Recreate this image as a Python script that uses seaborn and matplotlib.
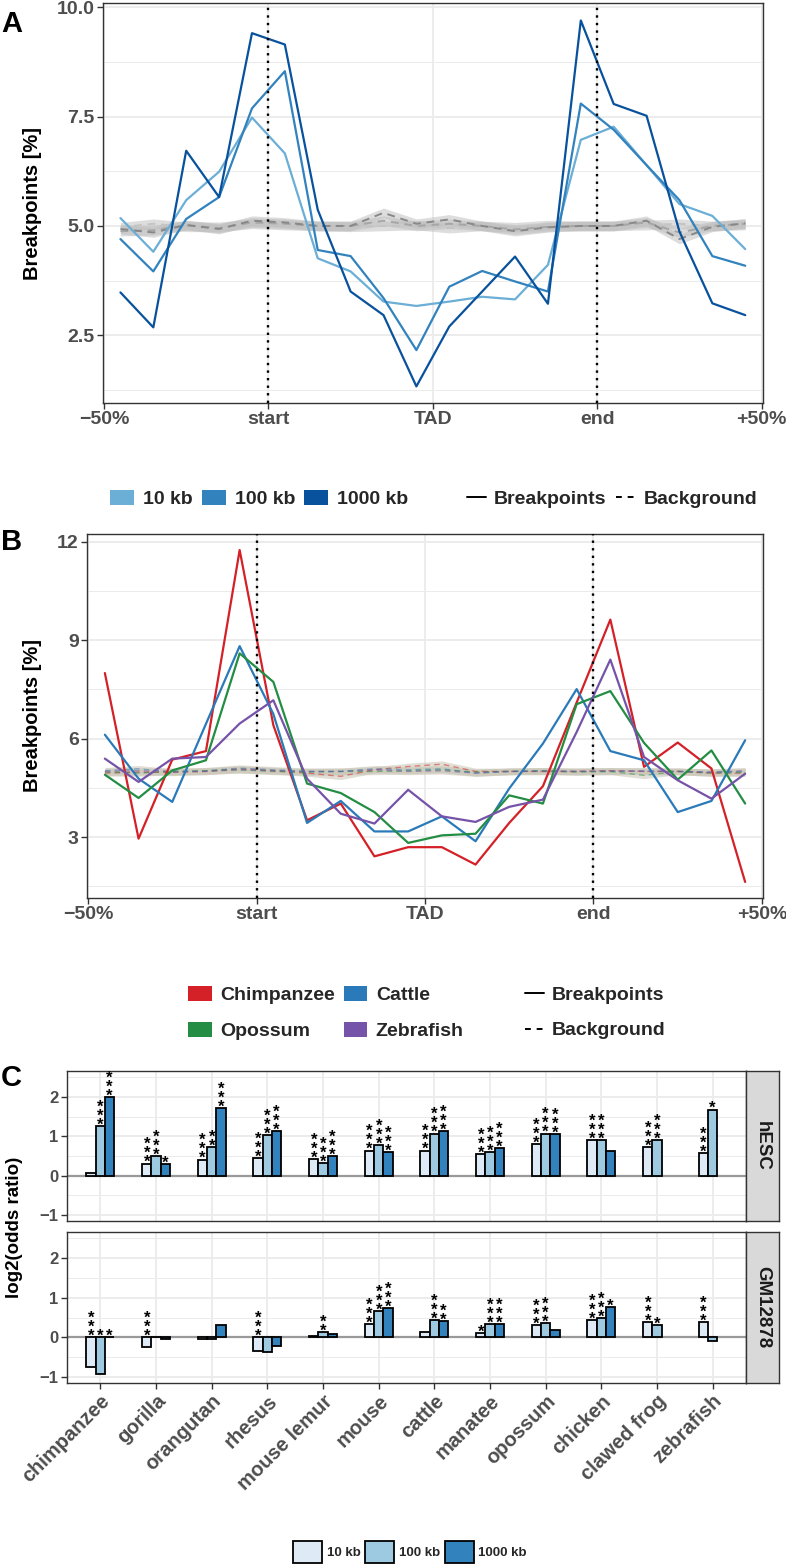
import numpy as np
import pandas as pd
import matplotlib
matplotlib.use("Agg")
import matplotlib.pyplot as plt
import seaborn as sns
from matplotlib.patches import Patch
from matplotlib.lines import Line2D
from matplotlib.ticker import MultipleLocator

sns.set_theme(style="white")
plt.rcParams['font.family'] = ['Liberation Sans', 'DejaVu Sans']
plt.rcParams['font.weight'] = 'bold'
plt.rcParams['axes.unicode_minus'] = True

# ---- data ----
# bin centres, relative to TAD (start = 0, end = 1)
bin_pos = [-0.45, -0.35, -0.25, -0.15, -0.05, 0.05, 0.15, 0.25, 0.35, 0.45,
           0.55, 0.65, 0.75, 0.85, 0.95, 1.05, 1.15, 1.25, 1.35, 1.45]

# panel A: breakpoints by resolution
bp_10kb = [5.18, 4.41, 5.59, 6.24, 7.48, 6.66, 4.26, 3.96, 3.27, 3.17,
           3.27, 3.38, 3.32, 4.11, 6.97, 7.27, 6.39, 5.50, 5.23, 4.47]
bp_100kb = [4.70, 3.96, 5.16, 5.66, 7.69, 8.54, 4.45, 4.31, 3.35, 2.16,
            3.61, 3.97, 3.73, 3.50, 7.80, 7.20, 6.39, 5.59, 4.31, 4.09]
bp_1000kb = [3.48, 2.68, 6.72, 5.66, 9.41, 9.15, 5.37, 3.50, 2.96, 1.33,
             2.70, 3.50, 4.30, 3.22, 9.70, 7.79, 7.52, 4.87, 3.23, 2.96]
bg_10kb = [4.97, 5.05, 4.98, 4.98, 5.05, 5.02, 5.00, 4.98, 5.00, 5.02,
           4.95, 5.00, 4.97, 5.02, 5.00, 5.00, 5.02, 5.05, 5.00, 5.02]
bg_100kb = [4.88, 4.90, 5.02, 4.95, 5.08, 5.05, 5.00, 5.00, 5.12, 5.00,
            5.05, 5.00, 4.92, 4.98, 5.00, 5.00, 5.08, 4.85, 5.00, 5.05]
bg_1000kb = [4.93, 4.85, 5.02, 4.93, 5.12, 5.08, 5.00, 5.00, 5.30, 5.05,
             5.15, 5.00, 4.88, 4.97, 5.00, 5.00, 5.12, 4.70, 4.98, 5.06]
res_labels = ['10 kb', '100 kb', '1000 kb']

# panel B: breakpoints by species
bp_chimp = [8.00, 2.95, 5.36, 5.62, 11.75, 6.41, 3.51, 4.02, 2.41, 2.69,
            2.69, 2.16, 3.43, 4.55, 7.10, 9.63, 5.14, 5.88, 5.09, 1.63]
bp_cattle = [6.12, 4.78, 4.07, 6.45, 8.82, 6.75, 3.43, 4.10, 3.17, 3.17,
             3.63, 2.87, 4.48, 5.85, 7.51, 5.62, 5.34, 3.76, 4.10, 5.95]
bp_opossum = [4.90, 4.19, 5.03, 5.34, 8.60, 7.73, 4.63, 4.34, 3.76, 2.82,
              3.05, 3.10, 4.27, 4.02, 7.05, 7.45, 5.87, 4.75, 5.64, 4.02]
bp_zebrafish = [5.39, 4.68, 5.39, 5.44, 6.46, 7.17, 4.78, 3.71, 3.41, 4.44,
                3.63, 3.46, 3.92, 4.14, 6.20, 8.41, 5.44, 4.73, 4.17, 4.93]
bg_chimp = [4.95, 4.98, 4.97, 5.00, 5.08, 5.02, 4.95, 4.85, 5.05, 5.15,
            5.22, 5.00, 5.00, 5.00, 5.00, 5.02, 5.00, 5.00, 4.95, 4.95]
bg_cattle = [5.02, 5.08, 4.98, 5.02, 5.10, 5.05, 5.00, 5.00, 5.08, 5.05,
             5.08, 4.95, 5.00, 5.02, 5.00, 5.00, 5.02, 5.00, 4.98, 5.00]
bg_opossum = [4.98, 4.95, 5.00, 5.02, 5.05, 5.00, 4.98, 5.00, 5.00, 5.02,
              5.05, 4.98, 5.00, 5.02, 4.98, 5.00, 4.88, 5.00, 4.95, 4.97]
bg_zebrafish = [5.00, 5.02, 5.00, 5.00, 5.05, 5.02, 5.00, 5.00, 5.05, 5.00,
                5.02, 4.95, 5.00, 5.00, 5.00, 5.02, 5.00, 5.00, 4.98, 5.02]
species_B = ['Chimpanzee', 'Cattle', 'Opossum', 'Zebrafish']

# panel C: log2 odds ratio per species / cell type / resolution
species_C = ['chimpanzee', 'gorilla', 'orangutan', 'rhesus', 'mouse lemur', 'mouse',
             'cattle', 'manatee', 'opossum', 'chicken', 'clawed frog', 'zebrafish']
hesc_10kb = [0.08, 0.31, 0.41, 0.45, 0.43, 0.64, 0.64, 0.55, 0.80, 0.91, 0.72, 0.57]
hesc_100kb = [1.26, 0.49, 0.72, 1.04, 0.33, 0.79, 1.07, 0.60, 1.07, 0.91, 0.91, 1.68]
hesc_1000kb = [2.00, 0.29, 1.71, 1.13, 0.50, 0.61, 1.14, 0.70, 1.05, 0.62, np.nan, np.nan]
gm_10kb = [-0.75, -0.25, -0.03, -0.34, 0.03, 0.34, 0.14, 0.12, 0.32, 0.44, 0.39, 0.39]
gm_100kb = [-0.92, 0.01, -0.04, -0.36, 0.14, 0.66, 0.44, 0.34, 0.36, 0.49, 0.32, -0.08]
gm_1000kb = [0.01, -0.05, 0.32, -0.22, 0.09, 0.74, 0.41, 0.34, 0.18, 0.76, np.nan, np.nan]
hesc_stars_10kb = ['', '***', '***', '***', '***', '***', '***', '***', '***', '***', '***', '***']
hesc_stars_100kb = ['***', '***', '**', '***', '***', '***', '***', '***', '***', '***', '***', '*']
hesc_stars_1000kb = ['***', '*', '***', '***', '***', '***', '***', '***', '***', '', '', '']
gm_stars_10kb = ['***', '***', '', '***', '', '***', '', '*', '***', '***', '***', '***']
gm_stars_100kb = ['*', '', '', '', '**', '***', '***', '***', '***', '***', '*', '']
gm_stars_1000kb = ['*', '', '', '', '', '***', '**', '***', '', '*', '', '']
cells = ['hESC', 'GM12878']

# ---- colours ----
a_colors = ['#6BAED6', '#3182BD', '#08519C']
a_bg_colors = ['#C4C4C4', '#A6A6A6', '#888888']
b_colors = ['#D42027', '#2A7AB9', '#238E43', '#7553A8']
c_colors = ['#DEEBF7', '#9ECAE1', '#3182BD']

W, H = 786, 1568
fig = plt.figure(figsize=(W / 100, H / 100), dpi=100)


def px_axes(left, top, right, bottom):
    return fig.add_axes([left / W, 1 - bottom / H, (right - left) / W, (bottom - top) / H])


def style(ax, labelsize=14):
    ax.set_facecolor('white')
    for s in ax.spines.values():
        s.set_visible(True)
        s.set_color('#333333')
        s.set_linewidth(1.0)
    ax.tick_params(which='major', colors='#333333', labelcolor='#4D4D4D', length=4,
                   width=1, labelsize=labelsize, bottom=True, left=True, pad=2)
    ax.tick_params(which='minor', length=0)
    ax.set_axisbelow(True)
    ax.grid(which='major', color='#EBEBEB', lw=1.3)
    ax.grid(which='minor', axis='y', color='#EBEBEB', lw=0.7)
    ax.set_xlabel('')
    ax.set_ylabel('')


def long_df(series, names):
    return pd.DataFrame({
        'pos': bin_pos * len(series),
        'value': sum(series, []),
        'group': sum([[n] * len(bin_pos) for n in names], []),
    })


xticks = [-0.5, 0, 0.5, 1, 1.5]
xticklabels = ['\u221250%', 'start', 'TAD', 'end', '+50%']

# ---- panel A ----
axA = px_axes(103, 3, 763, 403)
bgA = long_df([bg_10kb, bg_100kb, bg_1000kb], res_labels)
for vals in [bg_10kb, bg_100kb, bg_1000kb]:
    axA.fill_between(bin_pos, np.array(vals) - 0.11, np.array(vals) + 0.11,
                     color='#BDBDBD', alpha=0.5, lw=0)
sns.lineplot(data=bgA, x='pos', y='value', hue='group', palette=a_bg_colors,
             estimator=None, lw=1.4, dashes=False, linestyle=(0, (4, 3)),
             legend=False, ax=axA)
dfA = long_df([bp_10kb, bp_100kb, bp_1000kb], res_labels)
sns.lineplot(data=dfA, x='pos', y='value', hue='group', palette=a_colors,
             estimator=None, lw=1.6, legend=False, ax=axA)
for v in [0, 1]:
    axA.axvline(v, color='black', ls=(0, (1, 2.2)), lw=1.7, zorder=5)
style(axA)
axA.set_xlim(-0.503, 1.504)
axA.set_ylim(0.95, 10.10)
axA.set_yticks([2.5, 5.0, 7.5, 10.0])
axA.set_yticklabels(['2.5', '5.0', '7.5', '10.0'])
axA.yaxis.set_minor_locator(MultipleLocator(1.25))
axA.set_xticks(xticks)
axA.set_xticklabels(xticklabels)

# ---- panel B ----
axB = px_axes(87, 534, 763, 898)
bgB = long_df([bg_chimp, bg_cattle, bg_opossum, bg_zebrafish], species_B)
for vals in [bg_chimp, bg_cattle, bg_opossum, bg_zebrafish]:
    axB.fill_between(bin_pos, np.array(vals) - 0.1, np.array(vals) + 0.1,
                     color='#CCC8BA', alpha=0.6, lw=0)
sns.lineplot(data=bgB, x='pos', y='value', hue='group', palette=b_colors,
             estimator=None, lw=1.0, dashes=False, linestyle=(0, (4, 3)),
             alpha=0.5, legend=False, ax=axB)
dfB = long_df([bp_chimp, bp_cattle, bp_opossum, bp_zebrafish], species_B)
sns.lineplot(data=dfB, x='pos', y='value', hue='group', palette=b_colors,
             estimator=None, lw=1.6, legend=False, ax=axB)
for v in [0, 1]:
    axB.axvline(v, color='black', ls=(0, (1, 2.2)), lw=1.7, zorder=5)
style(axB)
axB.set_xlim(-0.503, 1.503)
axB.set_ylim(1.14, 12.24)
axB.set_yticks([3, 6, 9, 12])
axB.yaxis.set_minor_locator(MultipleLocator(1.5))
axB.set_xticks(xticks)
axB.set_xticklabels(xticklabels)

# ---- panel C ----
dfC = pd.DataFrame({
    'species': species_C * 6,
    'res': sum([[r] * len(species_C) for r in res_labels], []) * 2,
    'cell': ['hESC'] * 36 + ['GM12878'] * 36,
    'value': hesc_10kb + hesc_100kb + hesc_1000kb + gm_10kb + gm_100kb + gm_1000kb,
    'stars': (hesc_stars_10kb + hesc_stars_100kb + hesc_stars_1000kb
              + gm_stars_10kb + gm_stars_100kb + gm_stars_1000kb),
})
panel_rows = [(1071, 1221), (1232, 1383)]
bar_width = 0.5
for (top, bottom), cell in zip(panel_rows, cells):
    ax = px_axes(67, top, 746, bottom)
    sub = dfC[(dfC['cell'] == cell)].dropna(subset=['value'])
    ax.axhline(0, color='#9A9A9A', lw=1.6, zorder=0.9)
    sns.barplot(data=sub, x='species', y='value', hue='res', order=species_C,
                hue_order=res_labels, palette=c_colors, width=bar_width,
                edgecolor='black', linewidth=1.3, errorbar=None, legend=False,
                saturation=1, ax=ax)
    # significance stars, stacked vertically above each bar
    for _, r in sub.iterrows():
        if not r['stars']:
            continue
        xi = species_C.index(r['species'])
        xi += (res_labels.index(r['res']) - 1) * bar_width / 3
        ax.annotate('\n'.join(r['stars']), xy=(xi, max(r['value'], 0)),
                    xytext=(0, -4.8), textcoords='offset points', ha='center',
                    va='bottom', fontsize=12, linespacing=0.5, color='black',
                    zorder=6)
    style(ax, labelsize=12)
    ax.set_xlim(-0.6, 11.6)
    ax.set_ylim(-1.15, 2.66)
    ax.set_yticks([-1, 0, 1, 2])
    ax.set_yticklabels(['\u22121', '0', '1', '2'])
    ax.yaxis.set_minor_locator(MultipleLocator(0.5))
    ax.grid(which='major', axis='x', color='#EBEBEB', lw=1.3)
    if cell == 'hESC':
        ax.tick_params(axis='x', labelbottom=False, length=0)
    else:
        ax.set_xticks(range(len(species_C)))
        ax.set_xticklabels(species_C, rotation=45, ha='right', rotation_mode='anchor',
                           fontsize=14.5)
    strip = px_axes(746, top, 779, bottom)
    strip.set_facecolor('#D9D9D9')
    strip.set_xticks([])
    strip.set_yticks([])
    for s in strip.spines.values():
        s.set_visible(True)
        s.set_color('#333333')
        s.set_linewidth(1.0)
    strip.text(0.5, 0.5, cell, rotation=270, ha='center', va='center',
               fontsize=13.5, color='#1A1A1A', transform=strip.transAxes)

# ---- axis titles and panel letters ----
fig.text(33 / W, 1 - 203 / H, 'Breakpoints [%]', rotation=90, ha='center', va='center',
         fontsize=14.5, color='black')
fig.text(33 / W, 1 - 716 / H, 'Breakpoints [%]', rotation=90, ha='center', va='center',
         fontsize=14.5, color='black')
fig.text(15 / W, 1 - 1227 / H, 'log2(odds ratio)', rotation=90, ha='center', va='center',
         fontsize=13.5, color='black')
for letter, y in [('A', 24), ('B', 542), ('C', 1078)]:
    fig.text(1 / W, 1 - y / H, letter, fontsize=21, ha='left', va='center', color='black')

# ---- legends ----
prop14 = {'weight': 'bold', 'size': 14}
hA = [Patch(facecolor=c, edgecolor='none') for c in a_colors]
fig.legend(hA, res_labels, loc='center', bbox_to_anchor=(259 / W, 1 - 499 / H), ncol=3,
           frameon=False, prop=prop14, handlelength=1.25, handleheight=0.85,
           handletextpad=0.45, columnspacing=0.45, borderpad=0, borderaxespad=0)
hLine = [Line2D([], [], color='black', lw=1.4), Line2D([], [], color='black', lw=1.4, ls=(0, (3, 3)))]
fig.legend(hLine, ['Breakpoints', 'Background'], loc='center',
           bbox_to_anchor=(612 / W, 1 - 499 / H), ncol=2, frameon=False, prop=prop14,
           handlelength=1.0, handletextpad=0.4, columnspacing=0.5, borderpad=0,
           borderaxespad=0)

hB = [Patch(facecolor=c, edgecolor='none') for c in b_colors]
order = [0, 2, 1, 3]
fig.legend([hB[i] for i in order], [species_B[i] for i in order], loc='center',
           bbox_to_anchor=(326 / W, 1 - 1013 / H), ncol=2, frameon=False, prop=prop14,
           handlelength=1.2, handleheight=0.85, handletextpad=0.45, columnspacing=0.45,
           labelspacing=0.9, borderpad=0, borderaxespad=0)
fig.legend(hLine, ['Breakpoints', 'Background'], loc='center',
           bbox_to_anchor=(595 / W, 1 - 1013 / H), ncol=1, frameon=False, prop=prop14,
           handlelength=1.0, handletextpad=0.4, labelspacing=0.9, borderpad=0,
           borderaxespad=0)

hC = [Patch(facecolor=c, edgecolor='black', lw=1.3) for c in c_colors]
fig.legend(hC, res_labels, loc='center', bbox_to_anchor=(410 / W, 1 - 1552 / H), ncol=3,
           frameon=False, prop={'weight': 'bold', 'size': 9.5}, handlelength=2.2,
           handleheight=2.2, handletextpad=0.35, columnspacing=0.35, borderpad=0,
           borderaxespad=0)

fig.savefig('out.png', dpi=100)
